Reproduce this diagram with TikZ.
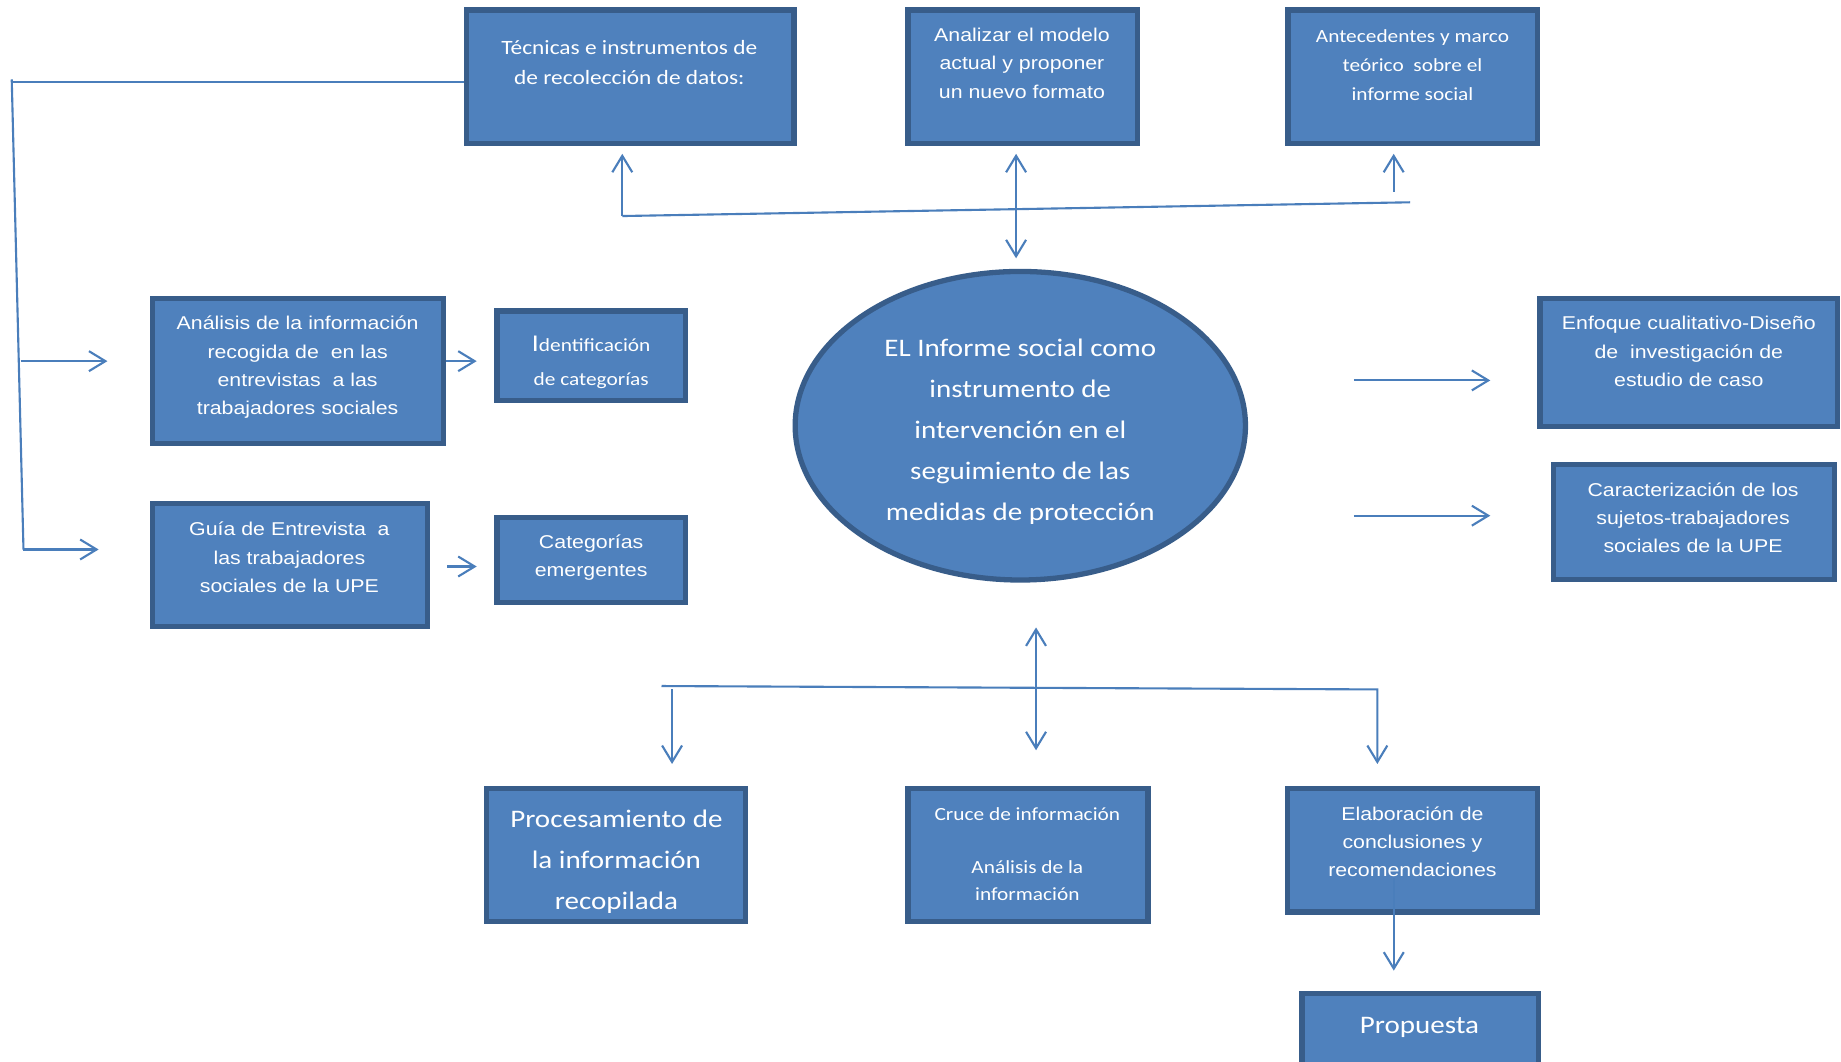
\documentclass[tikz,border=0pt]{standalone}
\usepackage{fontspec}
\usetikzlibrary{arrows.meta,shapes.geometric}
\newfontfamily\arialf[FakeStretch=1.15]{Liberation Sans}
\newfontfamily\calf[FakeStretch=1.15]{Carlito}
\definecolor{fillc}{HTML}{4F81BD}
\definecolor{bordc}{HTML}{385D8A}
\definecolor{linec}{HTML}{4A7EBB}
\newcommand\mybox[5]{%
  \pgfmathsetmacro\myw{#4-#2-4.5}\pgfmathsetmacro\myh{#5-#3-4.5}%
  \node[box, minimum width=\myw pt, minimum height=\myh pt] (#1) at ({(#2+#4)/2},{(#3+#5)/2}) {};}
\begin{document}
\begin{tikzpicture}[x=1pt,y=-1pt,
  box/.style={draw=bordc, fill=fillc, line width=4.5pt, inner sep=0pt, rectangle},
  txa/.style={text=white, align=center, anchor=base, inner sep=0pt, font=\arialf\fontsize{15.8}{24}\selectfont},
  txc/.style={text=white, align=center, anchor=base, inner sep=0pt, font=\calf\fontsize{15.8}{25}\selectfont},
  txb/.style={text=white, align=center, anchor=base, inner sep=0pt, font=\calf\fontsize{21.5}{35}\selectfont},
  conn/.style={draw=linec, line width=1.8pt},
  arr/.style={conn, -{Straight Barb[length=14pt,width=17pt]}},
  darr/.style={conn, {Straight Barb[length=14pt,width=17pt]}-{Straight Barb[length=14pt,width=17pt]}},
]
\useasboundingbox[fill=white] (0,0) rectangle (1568,903.7);

% boxes
\mybox{tec}{395}{6.3}{678.5}{124.4}
\mybox{anz}{771}{6.3}{971.3}{124.4}
\mybox{ant}{1094.7}{6.3}{1311.8}{124.4}
\mybox{ana}{127.5}{252}{380}{380}
\mybox{idn}{421}{262.6}{586}{343.6}
\mybox{gui}{127.5}{426.8}{366.5}{536.1}
\mybox{cat}{421}{438.3}{586}{515.1}
\mybox{enf}{1309.3}{252}{1567}{365.2}
\mybox{car}{1320.9}{393.2}{1564.5}{495.7}
\mybox{pro}{412.4}{669.4}{637.4}{787.2}
\mybox{cru}{771}{669.4}{980}{787.2}
\mybox{ela}{1094.6}{669.4}{1311.7}{779.1}
\mybox{prp}{1106.6}{844}{1312.7}{920}
\node[draw=bordc, fill=fillc, line width=4.5pt, ellipse, inner sep=0pt,
      minimum width=383.5pt, minimum height=262.8pt] (ell) at (869,362.6) {};

% texts (anchor = baseline of the last line)
\node[txc, font=\calf\fontsize{17.3}{26}\selectfont] (tect) at (536,72)
  {Técnicas e instrumentos de\\de recolección de datos:};
\node[txa] (anzt) at (870.4,83.5) {Analizar el modelo\\actual y proponer\\un nuevo formato};
\node[txc] (antt) at (1203,86) {Antecedentes y marco\\teórico~ sobre el\\informe social};
\node[txa] (anat) at (253.5,353) {Análisis de la información\\recogida de~ en las\\entrevistas~ a las\\trabajadores sociales};
\node[txc, font=\calf\fontsize{15.8}{29}\selectfont] (idnt) at (503.5,328)
  {{\fontsize{20.5}{29}\selectfont I}dentificación\\de categorías};
\node[txa] (guit) at (246.5,504.4) {Guía de Entrevista~ a\\las trabajadores\\sociales de la UPE};
\node[txa] (catt) at (503.5,491) {Categorías\\emergentes};
\begin{scope}
  \clip (600,200) rectangle (1140,446);
  \node[txb] (ellt) at (869,443.5) {EL Informe social como\\instrumento de\\intervención en el\\seguimiento de las\\medidas de protección};
\end{scope}
\node[txa] (enft) at (1438.4,329) {Enfoque cualitativo-Diseño\\de~ investigación de\\estudio de caso};
\node[txa] (cart) at (1442,470.5) {Caracterización de los\\sujetos-trabajadores\\sociales de la UPE};
\begin{scope}
  \clip (416,673) rectangle (634,777);
  \node[txb] (prot) at (525,775) {Procesamiento de\\la información\\recopilada};
\end{scope}
\node[txc, font=\calf\fontsize{15.8}{22.5}\selectfont] (crut) at (875,766.6)
  {Cruce de información\\[22.5pt]Análisis de la\\información};
\node[txa] (elat) at (1203,746.5) {Elaboración de\\conclusiones y\\recomendaciones};
\node[txb] (prpt) at (1209,880) {Propuesta};

% connector points
\coordinate (tecL) at (395,70);
\coordinate (L0) at (10,70);
\coordinate (Ltop) at (10,67.7);
\coordinate (Lbot) at (20,468);
\coordinate (b1s) at (17.5,307.6);
\coordinate (b1e) at (91.5,307.6);
\coordinate (b2e) at (84,468);
\coordinate (a1) at (380,307.6);
\coordinate (a2) at (406,307.6);
\coordinate (g1) at (381,482.5);
\coordinate (g2) at (406,482.5);
\coordinate (t1) at (530,184);
\coordinate (t2) at (1201,172.3);
\coordinate (tecB) at (530,131);
\coordinate (anzB) at (865.4,131);
\coordinate (ellT) at (865.4,220);
\coordinate (antS) at (1187,163.3);
\coordinate (antB) at (1187,131);
\coordinate (r1s) at (1153,324);
\coordinate (r1e) at (1269.3,324);
\coordinate (r2s) at (1153,439.2);
\coordinate (r2e) at (1269.3,439.2);
\coordinate (ellB) at (882.4,534.4);
\coordinate (cruT) at (882.4,639);
\coordinate (bs) at (563.4,584.3);
\coordinate (be) at (1173.1,587.2);
\coordinate (elaT) at (1173.1,650.7);
\coordinate (pd1) at (572.4,587.2);
\coordinate (proT) at (572.4,650.7);
\coordinate (ela1) at (1187.1,748);
\coordinate (prpT) at (1187.1,826.7);

% connectors
\draw[conn] (tecL) -- (L0);
\draw[conn] (Ltop) -- (Lbot);
\draw[arr] (b1s) -- (b1e);
\draw[arr] (Lbot) -- (b2e);
\draw[arr] (a1) -- (a2);
\draw[arr] (g1) -- (g2);
\draw[conn] (t1) -- (t2);
\draw[arr] (t1) -- (tecB);
\draw[darr] (anzB) -- (ellT);
\draw[arr] (antS) -- (antB);
\draw[arr] (r1s) -- (r1e);
\draw[arr] (r2s) -- (r2e);
\draw[darr] (ellB) -- (cruT);
\draw[arr] (bs) -- (be) -- (elaT);
\draw[arr] (pd1) -- (proT);
\draw[arr] (ela1) -- (prpT);
\end{tikzpicture}
\end{document}
